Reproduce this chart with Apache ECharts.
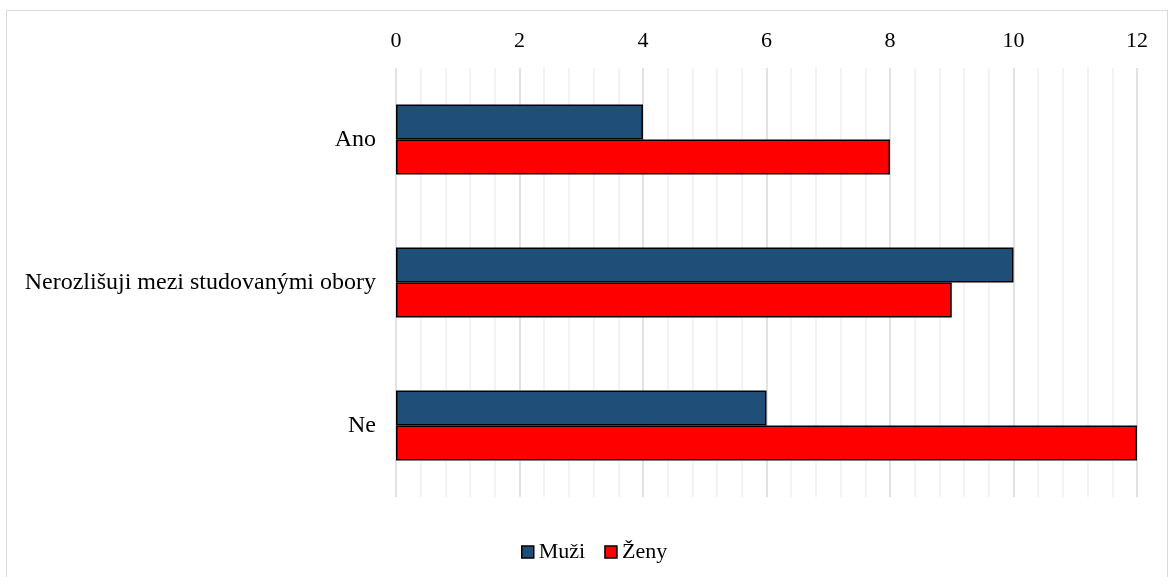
<!DOCTYPE html>
<html>
<head>
<meta charset="utf-8">
<script src="https://cdn.jsdelivr.net/npm/echarts@6/dist/echarts.min.js"></script>
<style>
  html, body { margin: 0; padding: 0; background: #fff; }
  #chart { width: 1169px; height: 577px; }
  .frame { position: absolute; left: 6px; top: 10px; width: 1160px; height: 580px; border: 1px solid #d9d9d9; pointer-events: none; }
</style>
</head>
<body>
<div id="chart"></div>
<div class="frame"></div>
<script>
// data
const categories = ['Ano', 'Nerozlišuji mezi studovanými obory', 'Ne']
const muzi = [4, 10, 6]
const zeny = [8, 9, 12]

const font = '"Liberation Serif", "Times New Roman", serif'
const chart = echarts.init(document.getElementById('chart'))

chart.setOption({
  animation: false,
  textStyle: { fontFamily: font },
  grid: {
    left: 396,
    right: 32,
    top: 68,
    bottom: 80
  },
  legend: {
    bottom: 9,
    left: 516,
    padding: 5,
    itemWidth: 12,
    itemHeight: 12,
    itemGap: 19,
    icon: 'rect',
    textStyle: { fontFamily: font, fontSize: 22, color: '#000' },
    data: [
      { name: 'Muži', itemStyle: { borderColor: '#000', borderWidth: 1.5 } },
      { name: 'Ženy', itemStyle: { borderColor: '#000', borderWidth: 1.5 } }
    ]
  },
  xAxis: {
    type: 'value',
    position: 'top',
    min: 0,
    max: 12,
    interval: 2,
    axisLine: { show: false },
    axisTick: { show: false },
    axisLabel: { fontFamily: font, fontSize: 22, color: '#000', margin: 16 },
    splitLine: { show: true, lineStyle: { color: '#d9d9d9', width: 1.5 } },
    minorTick: { show: false, splitNumber: 5 },
    minorSplitLine: { show: true, lineStyle: { color: '#efefef', width: 1.5 } }
  },
  yAxis: {
    type: 'category',
    inverse: true,
    data: categories,
    axisLine: { show: false },
    axisTick: { show: false },
    axisLabel: { fontFamily: font, fontSize: 24, color: '#000', margin: 20 }
  },
  series: [
    {
      name: 'Muži',
      type: 'bar',
      data: muzi,
      barWidth: 35,
      barGap: '0%',
      itemStyle: { color: '#1f4e79', borderColor: '#000', borderWidth: 1.5 }
    },
    {
      name: 'Ženy',
      type: 'bar',
      data: zeny,
      barWidth: 35,
      barGap: '0%',
      itemStyle: { color: '#ff0000', borderColor: '#000', borderWidth: 1.5 }
    }
  ]
})
</script>
</body>
</html>
